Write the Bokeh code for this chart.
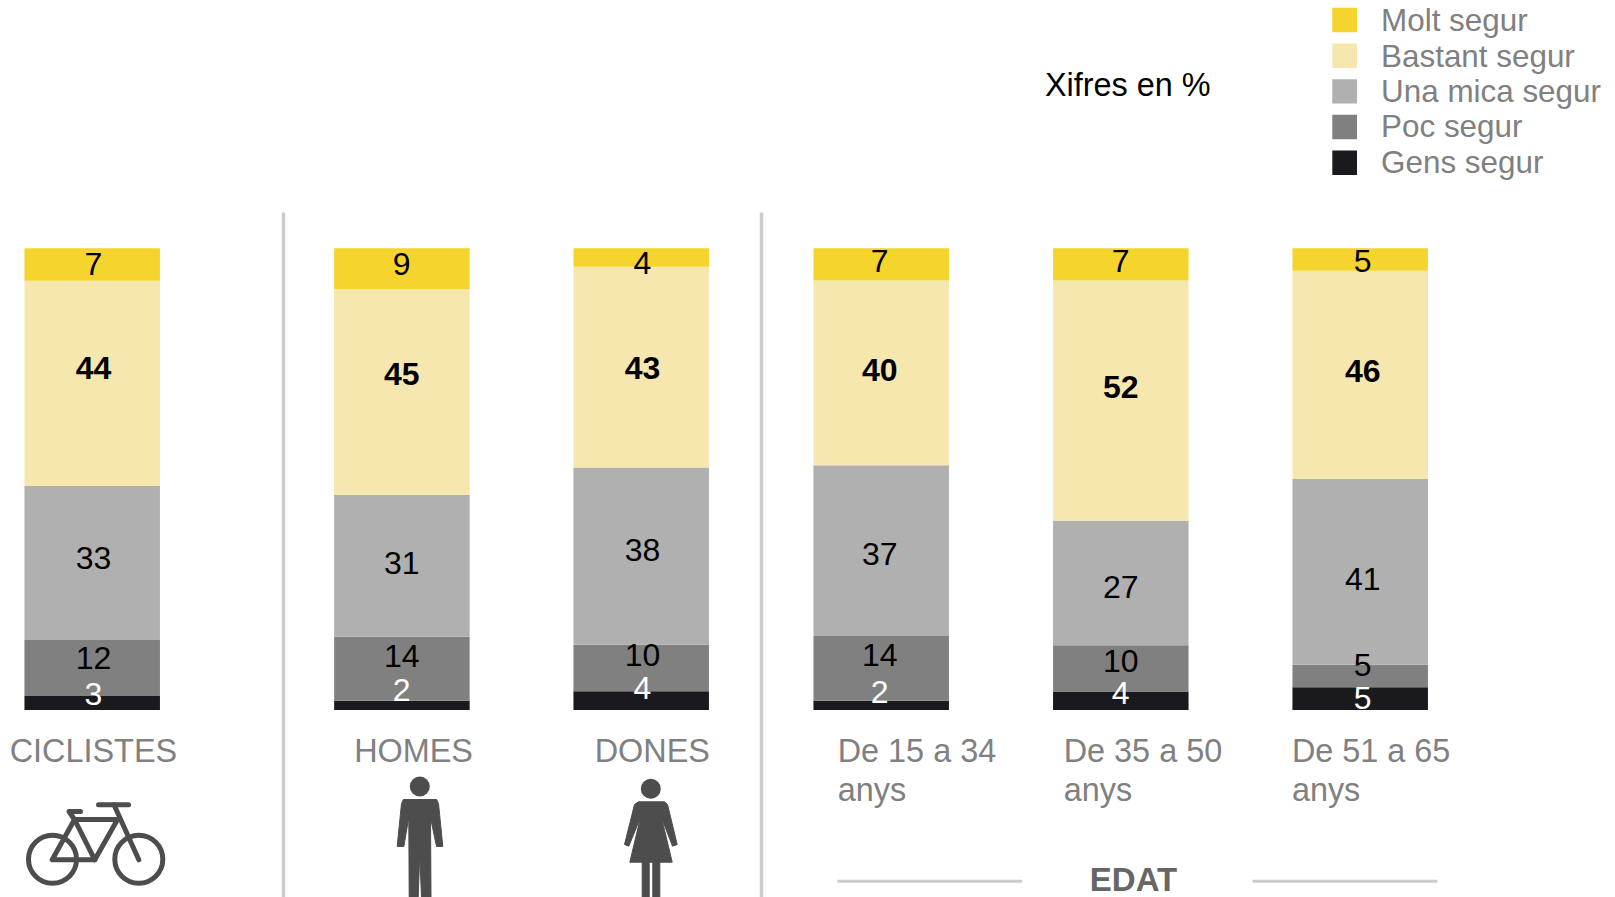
from bokeh.core.properties import value
from bokeh.embed import file_html
from bokeh.models import ColumnDataSource, Range1d
from bokeh.plotting import figure
from bokeh.resources import INLINE

# Survey answers, percentages as published
groups = ["CICLISTES", "HOMES", "DONES", "De 15 a 34", "De 35 a 50", "De 51 a 65"]
levels = ["Molt segur", "Bastant segur", "Una mica segur", "Poc segur", "Gens segur"]
molt = [7, 9, 4, 7, 7, 5]
bastant = [44, 45, 43, 40, 52, 46]
una_mica = [33, 31, 38, 37, 27, 41]
poc = [12, 14, 10, 14, 10, 5]
gens = [3, 2, 4, 2, 4, 5]
colors = ["#F5D52D", "#F6E7AE", "#B0B0B0", "#808080", "#1A191D"]

GRAY = "#808080"
ICON = "#4D4D4D"
RULE = "#CCCCCC"
FONT = value("Liberation Sans")

WIDTH, HEIGHT = 1615, 897
ZERO_PX, FULL_PX = 709.5, 247.7


def py(px):
    """Vertical page pixel expressed on the percentage scale."""
    return (ZERO_PX - px) / (ZERO_PX - FULL_PX) * 100


p = figure(
    width=WIDTH, height=HEIGHT, output_backend="svg", toolbar_location=None,
    x_range=Range1d(0, WIDTH), y_range=Range1d(py(HEIGHT), py(0)),
    min_border=0, outline_line_color=None, background_fill_color="white",
)
p.axis.visible = False
p.grid.visible = False

# Stacked columns, each scaled to the total of its own answers
centers = [91.7, 401.4, 640.7, 880.7, 1120.3, 1359.7]
series = [molt, bastant, una_mica, poc, gens]
totals = [sum(column) for column in zip(*series)]
data = {"x": centers}
for name, values in zip(levels, series):
    data[name] = [v / t * 100 for v, t in zip(values, totals)]
p.vbar_stack(
    levels[::-1], x="x", width=135.5, color=colors[::-1], line_color=None,
    source=ColumnDataSource(data),
)


def text(x, px, content, color=GRAY, size=32.4, style="normal", align="left"):
    # The renderer drops alphabetic text about a third of its size below the anchor
    lift = 0.355 * size
    nudge = -1.8 if align == "left" else 0
    p.text(
        [x + nudge], [py(px - lift)], text=[content], text_color=color,
        text_font=FONT, text_font_size=f"{size}px", text_font_style=style,
        text_align=align, text_baseline="alphabetic",
    )


# Value labels sit by hand, some of them straddling a band edge
label_x = [93, 401.2, 642, 879.2, 1120.2, 1362.2]
label_mid = [
    [263.7, 367.7, 557.3, 657.2, 693.2],
    [263.7, 372.9, 562.4, 655.1, 689.1],
    [262.7, 367.7, 549, 654.1, 687],
    [260.6, 369.8, 553.1, 654.1, 691.2],
    [260.6, 386.3, 586.1, 660.3, 692.2],
    [260.6, 370.8, 577.9, 664.4, 697.3],
]
for i, x in enumerate(label_x):
    for j, values in enumerate(series):
        text(
            x, label_mid[i][j] + 11.5, str(values[i]),
            color="white" if j == 4 else "black",
            style="bold" if j == 1 else "normal",
            size=32, align="center",
        )

# Separators between the three blocks of columns
for x in (283, 761):
    p.segment([x], [py(212)], [x], [py(HEIGHT)], line_color=RULE, line_width=3.5)

# Column captions
text(11, 762, groups[0])
text(355.5, 762, groups[1])
text(596, 762, groups[2])
for x, caption in zip((839, 1065, 1293.2), groups[3:]):
    text(x, 762, caption)
    text(x, 801.5, "anys")

# Age block heading with its two rules
p.segment([837, 1252], [py(880.7)] * 2, [1021.5, 1437], [py(880.7)] * 2,
          line_color=RULE, line_width=3)
text(1133, 890.5, "EDAT", color="#666666", size=33, style="bold", align="center")

# Legend and unit note
text(1046.3, 96, "Xifres en %", color="black")
swatch_top = [7.3, 43, 78.7, 114.3, 150]
legend_base = [31.3, 67, 101.8, 137.3, 173.1]
for top, base, name, color in zip(swatch_top, legend_base, levels, colors):
    p.quad(left=[1331.8], right=[1356.5], top=[py(top)], bottom=[py(top + 24.4)],
           fill_color=color, line_color=None)
    text(1382.4, base, name, size=31.4)


def pline(xs, ys, width=5):
    p.line(xs, [py(v) for v in ys], line_color=ICON, line_width=width,
           line_cap="round", line_join="round")


def ppatch(xs, ys):
    p.patch(xs, [py(v) for v in ys], fill_color=ICON, line_color=ICON,
            line_width=1, line_join="round")


# Bicycle pictogram
p.circle([52, 138.3], [py(858.7)] * 2, radius=24, fill_color=None,
         line_color=ICON, line_width=5)
pline([98, 128], [804.3, 804.3])
pline([113.5, 138.3], [804.3, 859.3])
pline([80, 68.5, 74], [811, 811, 819])
pline([74, 116.7], [819, 819])
pline([74, 51.7, 94.3, 117], [819, 859.3, 859.3, 819])
pline([74, 94.3], [819, 859.3])

# Man pictogram
p.circle([419.3], [py(786)], radius=10, fill_color=ICON, line_color=None)
ppatch(
    [403, 436, 438, 442.3, 436, 430, 430.5, 421, 419.3, 417.7, 408.7, 408.3, 403.3, 396.7, 401],
    [799, 799, 803, 846, 846, 817, 897, 897, 853, 897, 897, 817, 846, 846, 803],
)

# Woman pictogram
p.circle([650.3], [py(788.3)], radius=10, fill_color=ICON, line_color=None)
ppatch(
    [638, 664, 667, 676.7, 672, 661, 671.7, 659.3, 659.3, 652.3, 652.3, 648.7, 648.7, 641.7, 641.7, 629.3, 640, 628.3, 624, 634],
    [801.3, 801.3, 804, 844, 845.7, 817, 861.7, 861.7, 897, 897, 861.7, 861.7, 897, 897, 861.7, 861.7, 817, 845.7, 844, 804],
)

open("out.html", "w").write(file_html(p, INLINE))
